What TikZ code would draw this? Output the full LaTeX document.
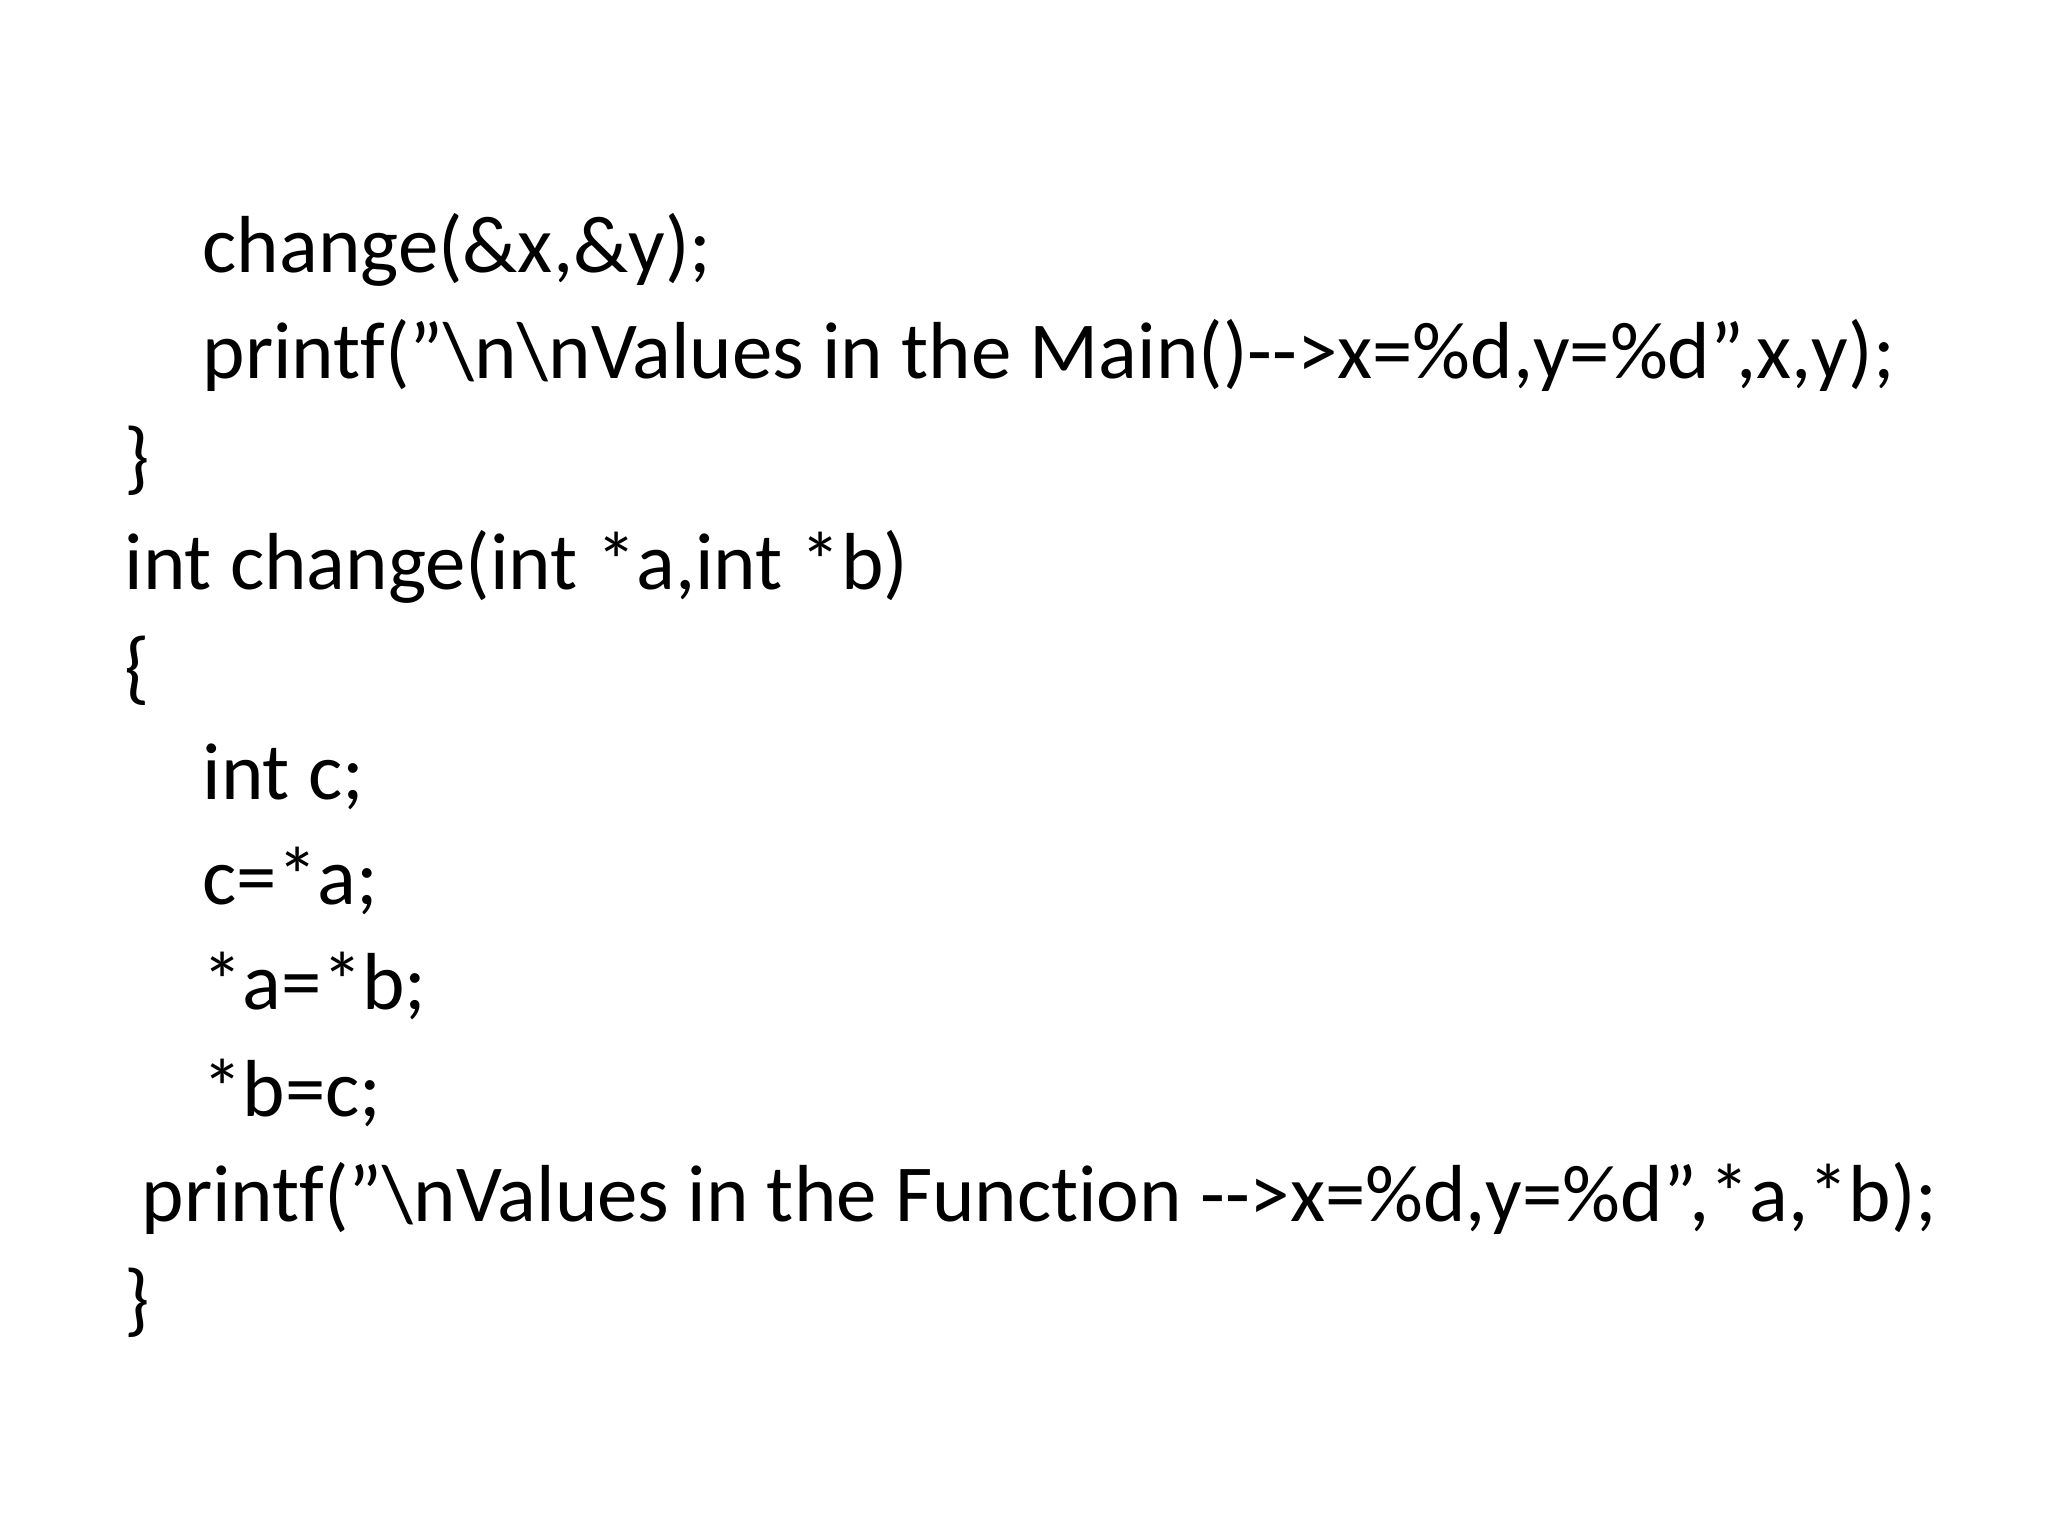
\documentclass[tikz,border=0pt]{standalone}
\usepackage{fontspec}
\setmainfont[Ligatures={NoCommon}]{Carlito}
\newcommand{\dq}{\symbol{34}}
\begin{document}
\begin{tikzpicture}[x=0.01cm,y=-0.01cm,code/.style={anchor=base west,inner sep=0pt,font=\fontsize{23}{28}\selectfont}]
\useasboundingbox (0,0) rectangle (2048,1536);
\node[code] (l1) at (202,272) {change(\&x,\&y);};
\node[code] (l2) at (202,378) {printf(\dq\textbackslash n\textbackslash nValues in the Main()-{}->x=\%d,y=\%d\dq,x,y);};
\node[code] (l3) at (124,484) {\}};
\node[code] (l4) at (124,589) {int change(int *a,int *b)};
\node[code] (l5) at (124,694) {\{};
\node[code] (l6) at (202,799) {int c;};
\node[code] (l7) at (202,904) {c=*a;};
\node[code] (l8) at (202,1009) {*a=*b;};
\node[code] (l9) at (202,1116) {*b=c;};
\node[code] (l10) at (141,1221) {printf(\dq\textbackslash nValues in the Function -{}->x=\%d,y=\%d\dq,*a,*b);};
\node[code] (l11) at (124,1326) {\}};
\end{tikzpicture}
\end{document}
